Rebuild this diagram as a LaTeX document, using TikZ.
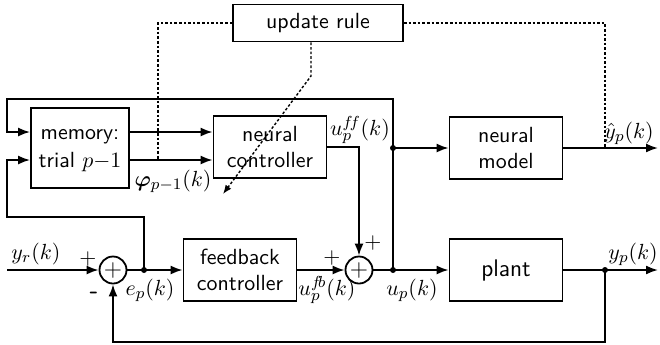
\documentclass[tikz,border=0pt]{standalone}
\usepackage{bm}
\usetikzlibrary{arrows.meta}

\tikzset{
  blk/.style={draw,line width=0.9pt,minimum width=56.5pt,minimum height=31pt,
    align=center,font=\sffamily,inner sep=1pt},
  sumnode/.style={draw,circle,line width=0.9pt,minimum size=13.5pt,inner sep=0pt,
    font=\large},
  sig/.style={line width=0.9pt,-{Latex[length=6pt,width=4.5pt]}},
  wire/.style={line width=0.9pt},
  updline/.style={line width=0.7pt,dash pattern=on 1.3pt off 1pt},
  junc/.style={circle,fill,inner sep=0pt,minimum size=3pt},
  lbl/.style={inner sep=0.5pt},
}

\begin{document}
\fontsize{10.95}{13}\selectfont
\begin{tikzpicture}[x=0.5pt,y=-0.5pt]
        \useasboundingbox (0,0) rectangle (660,344) ;
        % blocks
        \node[blk,minimum width=85pt,minimum height=18.5pt] (upd) at (318,23) {update rule} ;
        \node[blk,minimum width=49pt,minimum height=40pt,text depth=0pt,
          execute at begin node=\setlength{\baselineskip}{14pt}] (mem) at (80,148) {memory:\\trial $p{-}1$} ;
        \node[blk] (nc) at (270,147) {neural\\controller} ;
        \node[blk] (nm) at (506,148) {neural\\model} ;
        \node[blk] (fb) at (240,270) {feedback\\controller} ;
        \node[blk,font=\sffamily\large] (plant) at (506,270) {plant} ;
        \node[sumnode] (s1) at (113,270) {$+$} ;
        \node[sumnode] (s2) at (359,270) {$+$} ;
        % helper points
        \coordinate (r1) at (0,132) ;
        \coordinate (r2) at (0,160) ;
        \coordinate (in) at (7,270) ;
        \coordinate (lp1) at (7,217) ;
        \coordinate (lp2) at (7,99) ;
        \coordinate (lp3) at (113,342) ;
        \coordinate (yout) at (658,270) ;
        \coordinate (yhout) at (658,148) ;
        \coordinate (dk) at (311,76) ;
        \coordinate (ad) at (223,194) ;
        \node[junc] (je) at (144,270) {} ;
        \node[junc] (ju) at (393,270) {} ;
        \node[junc] (jnm) at (393,148) {} ;
        \node[junc] (jy) at (605,270) {} ;
        \coordinate (jyh) at (605,148) ;
        \coordinate (jd) at (158,160) ;
        % signal lines
        \draw[sig] (in) -- (s1) ;
        \draw[sig] (s1) -- (fb) ;
        \draw[sig] (je.center) |- (lp1) |- (mem.west |- r2) ;
        \draw[sig] (mem.east |- r1) -- (nc.west |- r1) ;
        \draw[sig] (mem.east |- r2) -- (nc.west |- r2) ;
        \draw[sig] (nc.east) -| (s2.north) ;
        \draw[sig] (fb) -- (s2) ;
        \draw[wire] (s2) -- (ju.center) ;
        \draw[sig] (ju.center) -- (plant) ;
        \draw[sig] (ju.center) |- (lp2) |- (mem.west |- r1) ;
        \draw[sig] (jnm.center) -- (nm) ;
        \draw[sig] (nm) -- (yhout) ;
        \draw[wire] (plant) -- (jy.center) ;
        \draw[sig] (jy.center) -- (yout) ;
        \draw[sig] (jy.center) |- (lp3) -- (s1) ;
        % update rule
        \draw[updline] (upd.west) -| (jd) ;
        \draw[updline] (upd.east) -| (jyh) ;
        \draw[updline,-{Latex[length=4.5pt,width=3.5pt]}] (upd.south -| dk) -- (dk) -- (ad) ;
        % labels
        \node[lbl] (lphi) at (173,181) {$\bm{\varphi}_{p-1}(k)$} ;
        \node[lbl] (luff) at (360,130) {$u_p^{f\!f}(k)$} ;
        \node[lbl] (lyh) at (629,133) {$\hat{y}_p(k)$} ;
        \node[lbl] (lyp) at (633,254) {$y_p(k)$} ;
        \node[lbl] (lup) at (412,290) {$u_p(k)$} ;
        \node[lbl] (lufb) at (327,290) {$u_p^{f\!b}(k)$} ;
        \node[lbl] (lyr) at (36,254) {$y_r(k)$} ;
        \node[lbl] (le) at (150,290) {$e_p(k)$} ;
        \node[lbl] (lp1p) at (88,259) {$+$} ;
        \node[lbl] (lp1m) at (94,295) {\sffamily\bfseries\large -} ;
        \node[lbl] (lp2a) at (332,258) {$+$} ;
        \node[lbl] (lp2b) at (373,243) {$+$} ;
      \end{tikzpicture}
\end{document}
